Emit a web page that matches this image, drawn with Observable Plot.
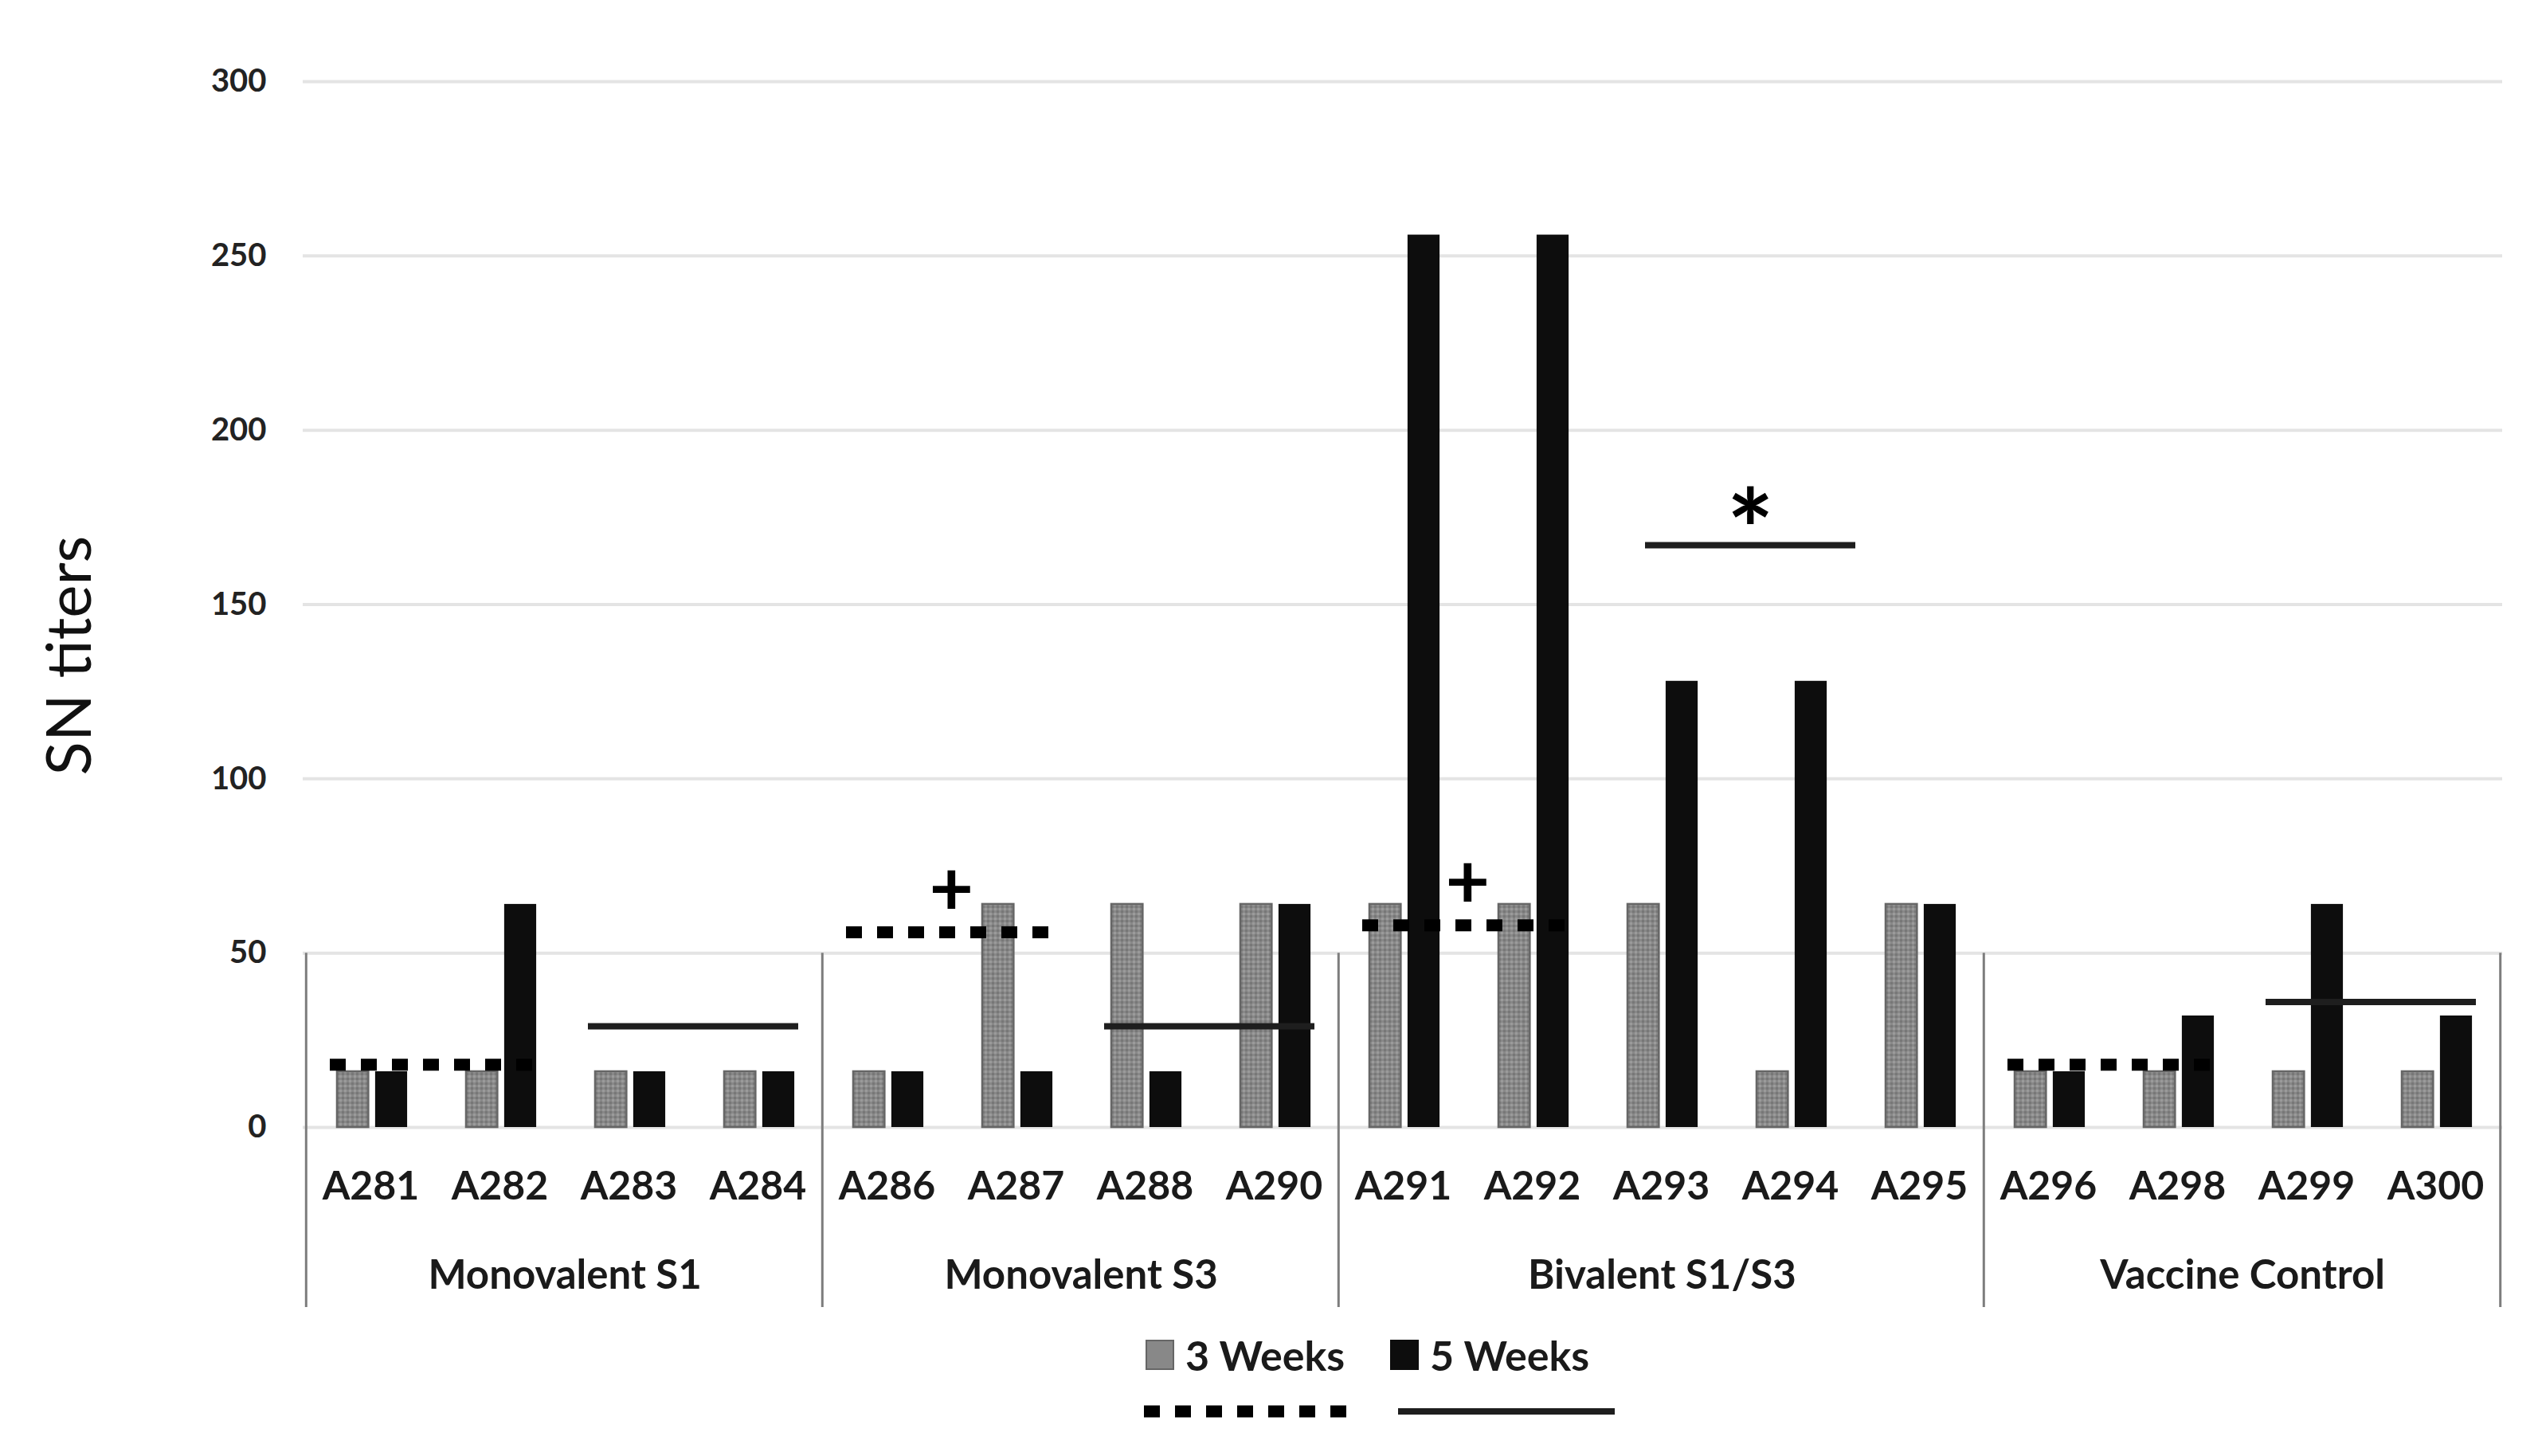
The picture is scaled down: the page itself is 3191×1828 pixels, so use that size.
<!DOCTYPE html>
<html>
<head>
<meta charset="utf-8">
<script src="https://cdn.jsdelivr.net/npm/d3@7"></script>
<script src="https://cdn.jsdelivr.net/npm/@observablehq/plot@0.6"></script>
<style>
  html, body { margin: 0; padding: 0; background: #ffffff; }
  #wrap { position: relative; width: 3191px; height: 1828px; font-family: Lato, "Liberation Sans", sans-serif; }
  #legend { position: absolute; left: 0; top: 1670px; width: 3191px; height: 158px; }
  .sw { position: absolute; width: 36px; height: 38px; }
  .lt { position: absolute; font-size: 52px; font-weight: 700; color: #1a1a1a; line-height: 1; }
</style>
</head>
<body>
<div id="wrap"><div id="chart"></div><div id="legend"></div></div>
<script>
// ---- data ----
const groups = ["Monovalent S1", "Monovalent S3", "Bivalent S1/S3", "Vaccine Control"];
const groupBirds = [
  ["A281", "A282", "A283", "A284"],
  ["A286", "A287", "A288", "A290"],
  ["A291", "A292", "A293", "A294", "A295"],
  ["A296", "A298", "A299", "A300"]
];
const birds = groupBirds.flat();
const series = ["3 Weeks", "5 Weeks"];
const week3 = [16, 16, 16, 16, 16, 64, 64, 64, 64, 64, 64, 16, 64, 16, 16, 16, 16];
const week5 = [16, 64, 16, 16, 16, 16, 16, 64, 256, 256, 128, 128, 64, 16, 32, 64, 32];
const yTicks = [0, 50, 100, 150, 200, 250, 300];

// group mean lines (dotted = 3 weeks, solid = 5 weeks)
const dottedFrom = ["A281", "A286", "A291", "A296"];
const dottedTo = ["A282", "A287", "A292", "A298"];
const dottedValue = [18, 56, 58, 18];
const solidFrom = ["A283", "A288", "A293", "A299"];
const solidTo = ["A284", "A290", "A294", "A300"];
const solidValue = [29, 29, 167, 36];

// significance marks
const markLabel = ["+", "+", "*"];
const markAt = ["A287", "A292", "A294"];
const markValue = [68, 70, 178];

// ---- layout ----
const W = 3191, H = 1670, ML = 380, MR = 50, MT = 102, MB = 255;
const bw = (W - ML - MR) / birds.length;
const FONT = "Lato, 'Liberation Sans', sans-serif";

const rows3 = birds.map((b, i) => ({bird: b, series: series[0], v: week3[i]}));
const rows5 = birds.map((b, i) => ({bird: b, series: series[1], v: week5[i]}));
const dotted = dottedFrom.map((f, i) => ({from: f, to: dottedTo[i], v: dottedValue[i]}));
const solid = solidFrom.map((f, i) => ({from: f, to: solidTo[i], v: solidValue[i]}));
const marksData = markLabel.map((t, i) => ({t, at: markAt[i], v: markValue[i]}));
const groupRows = groups.map((g, i) => ({g, first: groupBirds[i][0], n: groupBirds[i].length}));

const sepStyle = {y1: () => 50, y2: () => 0, insetBottom: -226, stroke: "#7d7d7d", strokeWidth: 3};
const solidStyle = {x1: "from", x2: "to", y: "v", stroke: "#1e1e1e", strokeWidth: 8, insetLeft: 30, insetRight: 30};

const chart = Plot.plot({
  width: W, height: H,
  marginLeft: ML, marginRight: MR, marginTop: MT, marginBottom: MB,
  style: {fontFamily: FONT, background: "#ffffff", color: "#1a1a1a", overflow: "visible"},
  x: {type: "band", domain: birds, padding: 0, axis: null},
  y: {domain: [0, 300], axis: null},
  marks: [
    Plot.gridY(yTicks, {stroke: "#e4e4e4", strokeOpacity: 1, strokeWidth: 4}),
    Plot.axisY(yTicks, {tickSize: 0, tickPadding: 46, fontSize: 40, fontWeight: "bold", fill: "#222", label: null}),
    Plot.text(["SN titers"], {frameAnchor: "left", textAnchor: "middle", dx: -291, dy: 64, rotate: -90, fontSize: 78, fill: "#111"}),
    // bars
    Plot.barY(rows3, {x: "bird", y: "v", fill: "url(#dots)", stroke: "#666666", strokeWidth: 2.5,
      insetLeft: bw * 0.24, insetRight: bw * 0.515}),
    Plot.barY(rows5, {x: "bird", y: "v", fill: "#0d0d0d",
      insetLeft: bw * 0.535, insetRight: bw * 0.215}),
    // group separators
    Plot.ruleX(groupRows, {x: "first", dx: -bw / 2, ...sepStyle}),
    Plot.ruleX([birds[birds.length - 1]], {x: d => d, dx: bw / 2, ...sepStyle}),
    // category labels
    Plot.text(birds, {x: d => d, y: () => 0, dy: 74, fontSize: 50, fontWeight: "bold", fill: "#1a1a1a"}),
    // group labels (centred on each group's span)
    ...groupRows.map(r => Plot.text([r], {x: "first", y: () => 0, text: "g", dx: (r.n - 1) * bw / 2, dy: 186,
      fontSize: 51, fontWeight: "bold", fill: "#1a1a1a"})),
    // mean lines
    Plot.ruleY(dotted, {x1: "from", x2: "to", y: "v", stroke: "#000", strokeWidth: 15, strokeDasharray: "20 19", insetLeft: 30, insetRight: 30}),
    Plot.ruleY(solid.filter((d, i) => i !== 2), solidStyle),
    Plot.ruleY(solid.filter((d, i) => i === 2), {...solidStyle, dx: 31}),
    // significance marks
    Plot.text(marksData.filter(d => d.t === "+"), {x: "at", y: "v", text: "t", dx: -bw / 2, fontSize: 96, fontWeight: "bold", fill: "#000"}),
    Plot.text(marksData.filter(d => d.t === "*"), {x: "at", y: "v", text: "t", dx: -bw / 2 + 31, dy: 36, fontSize: 140, fontWeight: "bold", fill: "#000"})
  ]
});

// grey bar texture
const ns = "http://www.w3.org/2000/svg";
const defs = document.createElementNS(ns, "defs");
defs.innerHTML = '<pattern id="dots" width="6" height="6" patternUnits="userSpaceOnUse">' +
  '<rect width="6" height="6" fill="#888888"/><rect x="0" y="0" width="3" height="3" fill="#9b9b9b"/>' +
  '<rect x="3" y="3" width="3" height="3" fill="#777777"/></pattern>';
chart.insertBefore(defs, chart.firstChild);
document.getElementById("chart").appendChild(chart);

// ---- legend ----
const legend = document.getElementById("legend");
const items = [
  {label: series[0], left: 1438, fill: "#888888", border: "#666666"},
  {label: series[1], left: 1745, fill: "#0d0d0d", border: "#0d0d0d"}
];
items.forEach(it => {
  const sw = document.createElement("div");
  sw.className = "sw";
  sw.style.left = it.left + "px";
  sw.style.top = "12px";
  sw.style.background = it.fill;
  sw.style.boxSizing = "border-box";
  sw.style.border = "2px solid " + it.border;
  legend.appendChild(sw);
  const t = document.createElement("div");
  t.className = "lt";
  t.style.left = (it.left + 50) + "px";
  t.style.top = "5px";
  t.textContent = it.label;
  legend.appendChild(t);
});
const lsvg = document.createElementNS(ns, "svg");
lsvg.setAttribute("width", 3191);
lsvg.setAttribute("height", 158);
lsvg.style.position = "absolute";
lsvg.style.left = "0"; lsvg.style.top = "0";
lsvg.innerHTML = '<line x1="1436" x2="1700" y1="102" y2="102" stroke="#000" stroke-width="15" stroke-dasharray="20 19"/>' +
  '<line x1="1755" x2="2027" y1="102" y2="102" stroke="#1e1e1e" stroke-width="8"/>';
legend.appendChild(lsvg);
</script>
</body>
</html>
